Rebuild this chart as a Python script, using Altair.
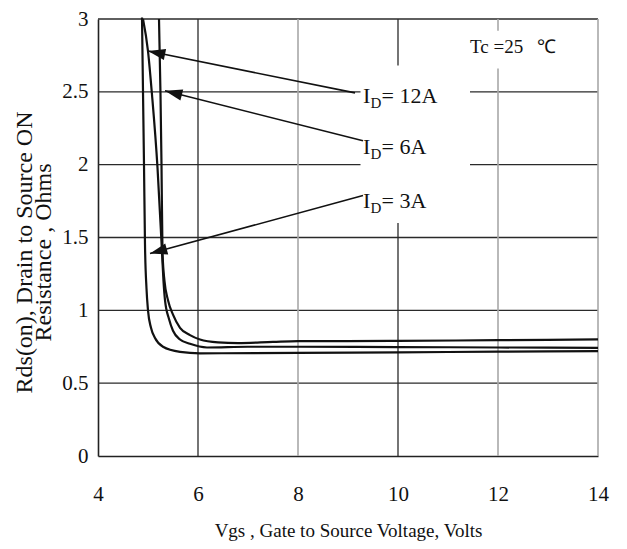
import math
import altair as alt
import pandas as pd

# ---------------- data ----------------
vgs_12a = [5.22, 5.25, 5.27, 5.29, 5.33, 5.40, 5.50, 5.64, 5.84, 6.04, 6.40, 6.80, 7.50, 8.0, 10.0, 12.0, 14.0]
rds_12a = [3.00, 2.48, 2.00, 1.40, 1.20, 1.07, 0.97, 0.88, 0.83, 0.80, 0.78, 0.775, 0.783, 0.788, 0.79, 0.795, 0.80]

vgs_6a = [4.90, 5.00, 5.08, 5.19, 5.28, 5.31, 5.34, 5.42, 5.50, 5.64, 5.84, 6.18, 7.0, 8.0, 10.0, 12.0, 14.0]
rds_6a = [3.00, 2.78, 2.48, 1.98, 1.40, 1.20, 1.07, 0.94, 0.86, 0.80, 0.77, 0.745, 0.75, 0.75, 0.748, 0.745, 0.742]

vgs_3a = [4.88, 4.90, 4.92, 4.94, 4.97, 5.00, 5.06, 5.14, 5.30, 5.64, 6.04, 8.0, 10.0, 12.0, 14.0]
rds_3a = [3.01, 2.50, 2.00, 1.45, 1.15, 1.00, 0.88, 0.81, 0.75, 0.715, 0.705, 0.708, 0.712, 0.716, 0.72]

x_ticks = [4, 6, 8, 10, 12, 14]
y_ticks = [0, 0.5, 1, 1.5, 2, 2.5, 3]
grid_h = [0.5, 1, 1.5, 2, 2.5, 3]
grid_v_dark = [6, 10]
grid_v_light = [8, 12, 14]

# annotation arrows: tail (near label) and tip (on curve)
arrow_names = ["12A", "6A", "3A"]
arrow_tail_x = [9.14, 9.30, 9.30]
arrow_tail_y = [2.493, 2.164, 1.788]
arrow_tip_x = [5.00, 5.34, 5.04]
arrow_tip_y = [2.78, 2.507, 1.39]

label_names = ["= 12A", "= 6A", "= 3A"]
label_x = 9.30
label_y = [2.425, 2.075, 1.705]

# white boxes behind the annotations
box_x = [9.25, 11.34]
box_x2 = [11.44, 13.44]
box_y = [1.60, 2.66]
box_y2 = [2.68, 2.92]

tc_text = "Tc =25\u00a0\u00a0 \u2103"
tc_x = 11.44
tc_y = 2.767

# ---------------- chart ----------------
W, H = 500, 437
PX_X = W / (x_ticks[-1] - x_ticks[0])
PX_Y = H / (y_ticks[-1] - y_ticks[0])
INK = "#111111"
SERIF = "Liberation Serif"

xs = alt.Scale(domain=[4, 14], nice=False, zero=False)
ys = alt.Scale(domain=[0, 3], nice=False, zero=False)

x_axis = alt.Axis(values=x_ticks, grid=False, ticks=False, domainColor="#222222", domainWidth=1.6,
                  labelFont=SERIF, labelFontSize=21, labelColor=INK, labelPadding=27,
                  labelFlush=False,
                  title="Vgs , Gate to Source Voltage, Volts", titleFont=SERIF,
                  titleFontSize=19, titleFontWeight="normal", titleColor=INK,
                  titleY=74, titleBaseline="middle")
y_axis = alt.Axis(values=y_ticks, format="~g", grid=False, ticks=False, domainColor="#222222",
                  domainWidth=1.6, labelFont=SERIF, labelFontSize=21, labelColor=INK,
                  labelPadding=10,
                  title=["Rds(on), Drain to Source ON", "Resistance , Ohms"], titleFont=SERIF,
                  titleFontSize=24, titleFontWeight="normal", titleColor=INK,
                  titleLineHeight=19, titleX=-62, titleY=233, titleBaseline="bottom",
                  titleAlign="center")


def X(field):
    return alt.X(field, scale=xs, axis=x_axis)


def Y(field):
    return alt.Y(field, scale=ys, axis=y_axis)


curves = pd.concat([
    pd.DataFrame({"vgs": vgs_12a, "rds": rds_12a, "id": "12A"}),
    pd.DataFrame({"vgs": vgs_6a, "rds": rds_6a, "id": "6A"}),
    pd.DataFrame({"vgs": vgs_3a, "rds": rds_3a, "id": "3A"}),
], ignore_index=True)
curves["order"] = range(len(curves))

hgrid = alt.Chart(pd.DataFrame({"y": grid_h})).mark_rule(color="#2a2a2a", strokeWidth=1.3).encode(
    y=Y("y:Q"))
vgrid_d = alt.Chart(pd.DataFrame({"x": grid_v_dark})).mark_rule(color="#2a2a2a", strokeWidth=1.3).encode(
    x=X("x:Q"))
vgrid_l = alt.Chart(pd.DataFrame({"x": grid_v_light})).mark_rule(color="#a8a8a8", strokeWidth=1.6).encode(
    x=X("x:Q"))

boxes = alt.Chart(pd.DataFrame({"x": box_x, "x2": box_x2, "y": box_y, "y2": box_y2})).mark_rect(
    color="white", opacity=1).encode(x=X("x:Q"), x2="x2:Q", y=Y("y:Q"), y2="y2:Q")

lines = alt.Chart(curves).mark_line(color=INK, strokeWidth=2.2, interpolate="monotone", clip=False).encode(
    x=X("vgs:Q"), y=Y("rds:Q"), detail="id:N", order="order:Q")

adf = pd.DataFrame({"name": arrow_names, "x": arrow_tail_x, "y": arrow_tail_y,
                    "x2": arrow_tip_x, "y2": arrow_tip_y})
# direction from tip toward tail in screen space (y down)
adf["angle"] = [
    math.degrees(math.atan2(-(ty - py) * PX_Y, (tx - px) * PX_X)) % 360
    for tx, ty, px, py in zip(arrow_tail_x, arrow_tail_y, arrow_tip_x, arrow_tip_y)
]

arrow_lines = alt.Chart(adf).mark_rule(color=INK, strokeWidth=1.6).encode(
    x=X("x:Q"), x2="x2:Q", y=Y("y:Q"), y2="y2:Q")

arrow_heads = alt.Chart(adf).mark_point(shape="M0,0L2,-0.65L2,0.65Z", filled=True, size=300,
                                        color=INK, opacity=1, strokeWidth=0).encode(
    x=X("x2:Q"), y=Y("y2:Q"), angle=alt.Angle("angle:Q", scale=None))

ldf = pd.DataFrame({"rest": label_names, "y": label_y})
ldf["I"] = "I"
ldf["D"] = "D"
ldf["xpos"] = label_x

lab_I = alt.Chart(ldf).mark_text(font=SERIF, fontSize=22, color=INK, align="left",
                                 baseline="alphabetic").encode(
    x=X("xpos:Q"), y=Y("y:Q"), text="I:N")
lab_D = alt.Chart(ldf).mark_text(font=SERIF, fontSize=15, color=INK, align="left", baseline="alphabetic",
                                 dx=7.4, dy=5).encode(
    x=X("xpos:Q"), y=Y("y:Q"), text="D:N")
lab_rest = alt.Chart(ldf).mark_text(font=SERIF, fontSize=22, color=INK, align="left", baseline="alphabetic",
                                    dx=18.5).encode(
    x=X("xpos:Q"), y=Y("y:Q"), text="rest:N")

tc = alt.Chart(pd.DataFrame({"x": [tc_x], "y": [tc_y], "t": [tc_text]})).mark_text(
    font=SERIF, fontSize=19, color=INK, align="left", baseline="alphabetic").encode(
    x=X("x:Q"), y=Y("y:Q"), text="t:N")

chart = alt.layer(
    hgrid, vgrid_d, vgrid_l, boxes, lines, arrow_lines, arrow_heads, lab_I, lab_D, lab_rest, tc
).properties(
    width=W, height=H,
    autosize=alt.AutoSizeParams(type="none"),
    padding={"left": 90, "top": 11, "right": 21, "bottom": 85},
    background="white",
).configure_view(stroke=None)

chart.save("out.html", embed_options={"renderer": "svg", "actions": False})
